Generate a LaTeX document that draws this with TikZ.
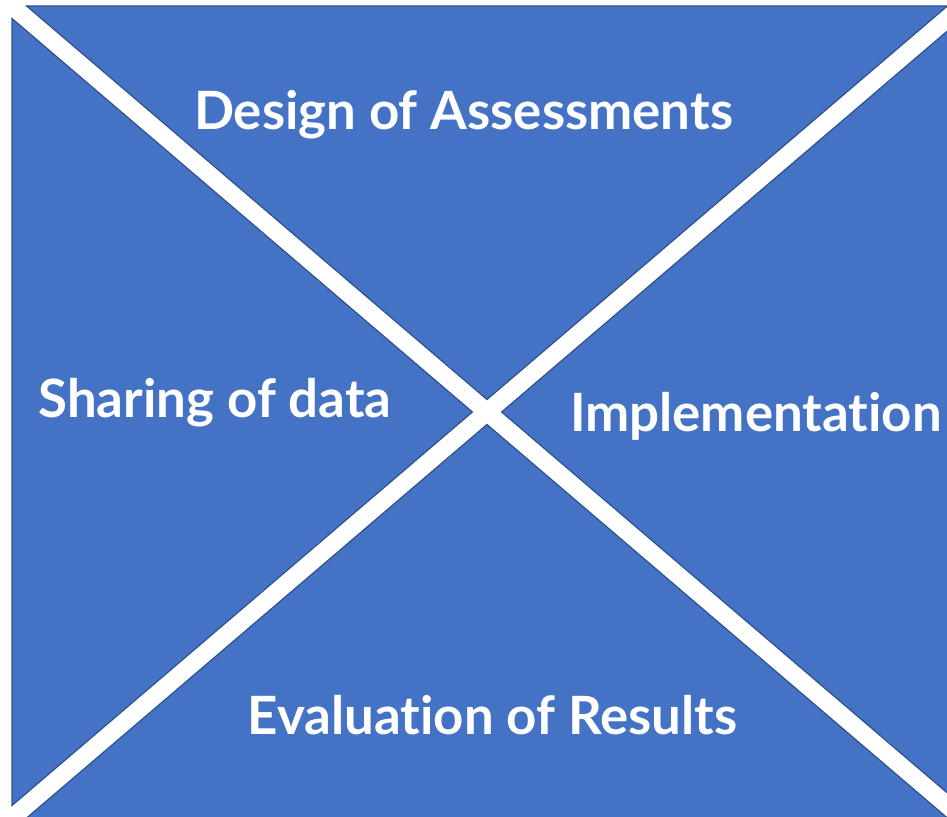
\documentclass[tikz,border=0pt]{standalone}
\usepackage{fontspec}
\setmainfont{Lato}[Ligatures={NoCommon,NoRare}, RawFeature={-calt}]
\usepackage{tikz}
\usetikzlibrary{positioning}
\definecolor{myblue}{RGB}{68, 114, 196}
\definecolor{myborder}{RGB}{47, 82, 143}

\begin{document}
\begin{tikzpicture}[
    x=0.5pt, y=-0.5pt,
    % --- stili ---
    sector/.style={fill=myblue, draw=myborder, line width=0.6pt},
    label_text/.style={text=white, font=\fontsize{26.4}{30}\selectfont\bfseries, anchor=base, inner sep=0}
]

% 1. Sfondo e riquadro
\fill[white] (0, 0) rectangle (947, 817);
\useasboundingbox (0, 0) rectangle (947, 817);
\clip (0, 0) rectangle (947, 817);

% 2. I quattro settori
\draw[sector] (26.6, 6) -- (947.4, 6) -- (487, 399.5) -- cycle;
\draw[sector] (12, 18.5) -- (472.4, 412) -- (12, 805.5) -- cycle;
\draw[sector] (26.6, 818) -- (487, 424.5) -- (947.4, 818) -- cycle;
\draw[sector] (962, 18.5) -- (501.6, 412) -- (962, 805.5) -- cycle;

% 3. Le etichette
\node (design) [label_text] at (463.5, 130) {Design of Assessments};
\node (sharing) [label_text] at (215, 418) {Sharing of data};
\node (impl) [label_text] at (756, 432) {Implementation};
\node (eval) [label_text] at (492.5, 734) {Evaluation of Results};
\end{tikzpicture}
\end{document}
